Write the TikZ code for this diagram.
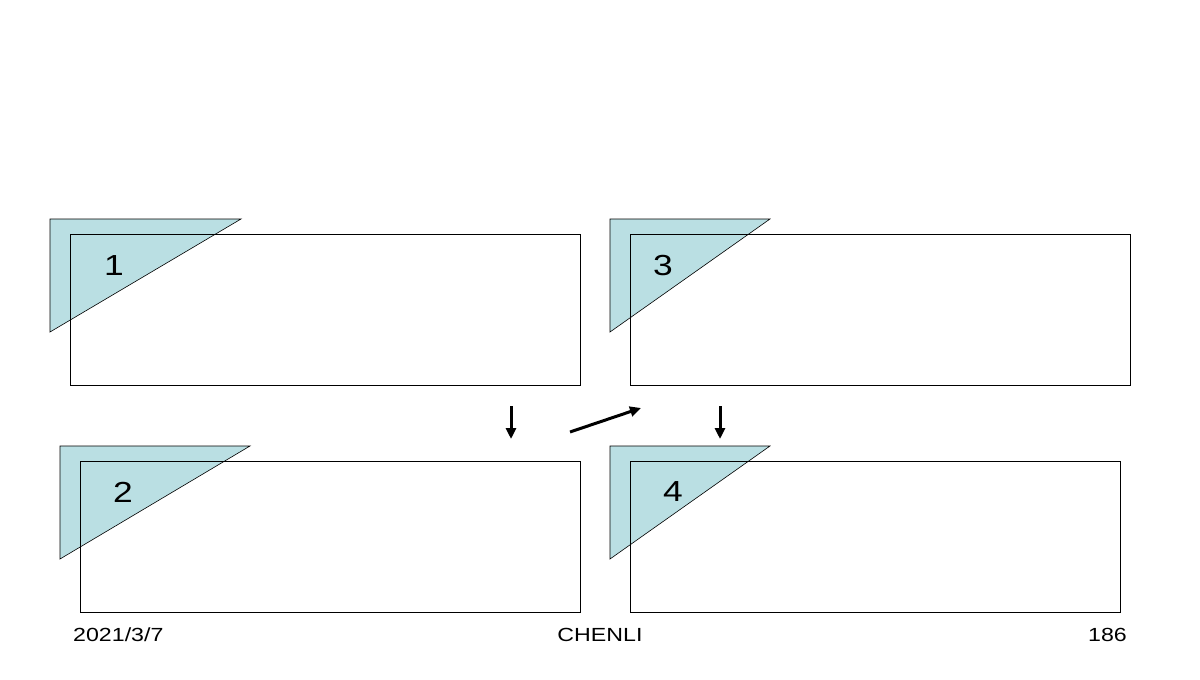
\documentclass[tikz,border=0pt]{standalone}
\usepackage{fontspec}
\setmainfont{Liberation Sans}[FakeStretch=1.22]
\usetikzlibrary{arrows.meta}
\definecolor{tri}{RGB}{186,223,227}
\begin{document}
\begin{tikzpicture}[x=1pt,y=-1pt,
  trishape/.style={fill=tri,draw=black,line width=0.6pt,line join=miter},
  panel/.style={draw=black,line width=0.8pt},
  num/.style={font=\fontsize{29}{31}\selectfont,inner sep=0pt},
  foot/.style={font=\fontsize{19}{21}\selectfont,inner sep=0pt},
  flow/.style={line width=3pt,-{Triangle[length=11pt,width=10pt]}}]
\useasboundingbox (0,0) rectangle (1200,680);
% triangles
\draw[trishape] (50,219) -- (241,219) -- (50,332) -- cycle;
\draw[trishape] (60,446) -- (250,446) -- (60,559) -- cycle;
\draw[trishape] (610,219) -- (770,219) -- (610,332) -- cycle;
\draw[trishape] (610,446) -- (770,446) -- (610,559) -- cycle;
% panels
\node[panel,minimum width=510pt,minimum height=151pt,inner sep=0pt] (p1) at (325,309.5) {};
\node[panel,minimum width=500pt,minimum height=151pt,inner sep=0pt] (p2) at (330,536.5) {};
\node[panel,minimum width=500pt,minimum height=151pt,inner sep=0pt] (p3) at (880,309.5) {};
\node[panel,minimum width=490pt,minimum height=151pt,inner sep=0pt] (p4) at (875,536.5) {};
% numbers
\node[num] (n1) at (114,266) {1};
\node[num] (n2) at (123,492) {2};
\node[num] (n3) at (663,266) {3};
\node[num] (n4) at (673,492) {4};
% arrows
\coordinate (a1s) at (511,406);
\coordinate (a1e) at (511,439);
\coordinate (a2s) at (570,432);
\coordinate (a2e) at (641,408);
\coordinate (a3s) at (720,406);
\coordinate (a3e) at (720,439);
\draw[flow] (a1s) -- (a1e);
\draw[flow] (a2s) -- (a2e);
\draw[flow] (a3s) -- (a3e);
% footer
\node[foot,anchor=base west] (date) at (73,641) {2021/3/7};
\node[foot,anchor=base] (auth) at (600,641) {CHENLI};
\node[foot,anchor=base east] (page) at (1127,641) {186};
\end{tikzpicture}
\end{document}
